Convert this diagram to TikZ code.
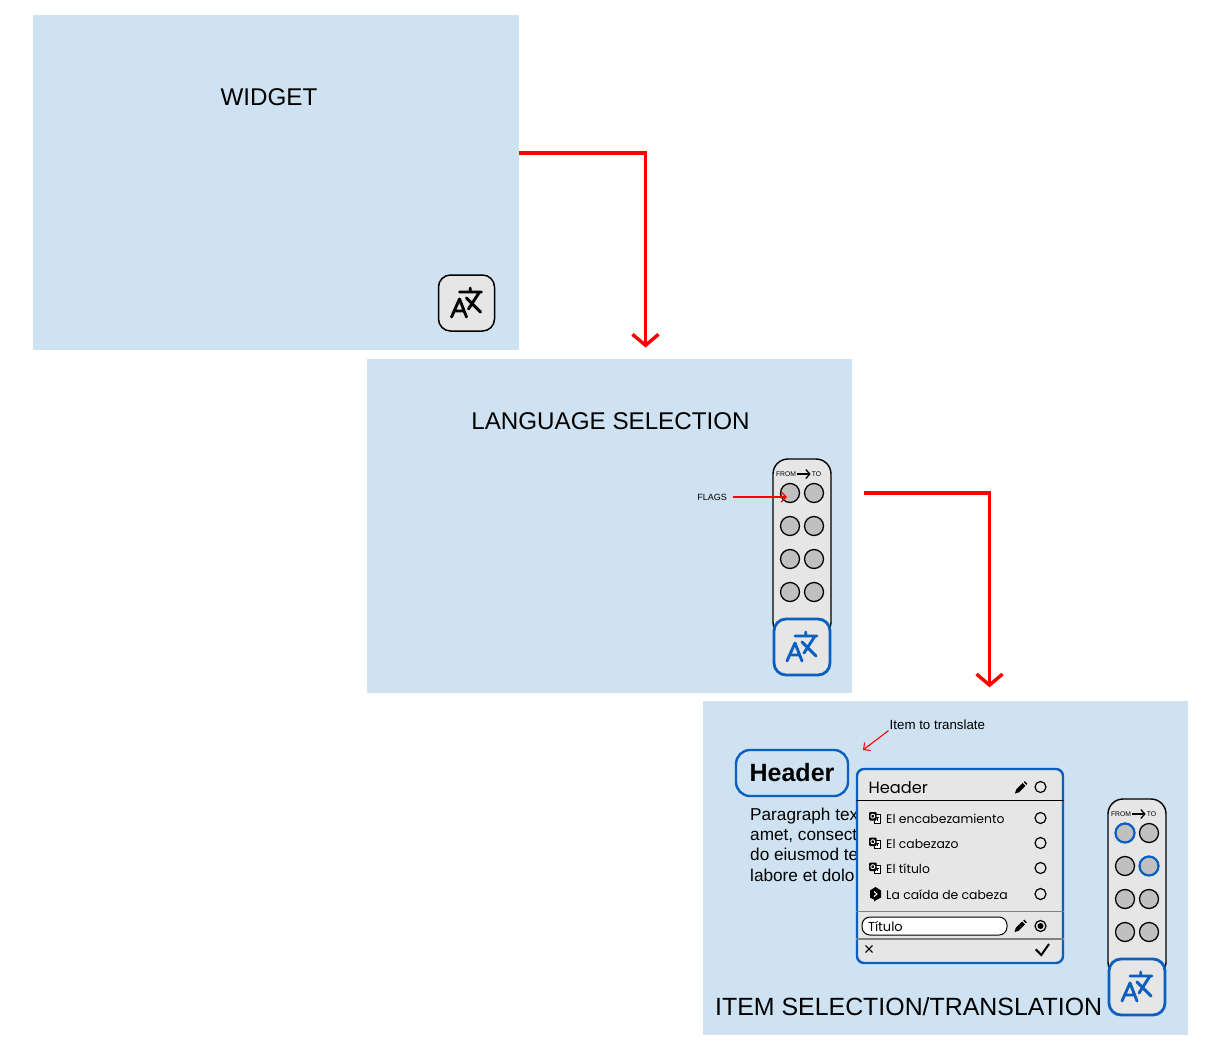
\documentclass[tikz,border=0pt]{standalone}
\usepackage{fontspec}
\setmainfont{Liberation Sans}
\newfontfamily\popfont{Poppins}
\usetikzlibrary{arrows.meta}
\definecolor{panelblue}{HTML}{CFE2F1}
\definecolor{selblue}{HTML}{0A5FBF}
\definecolor{boxgrey}{HTML}{E6E6E6}
\definecolor{flaggrey}{HTML}{C0C0C0}
\newcommand{\fsize}[1]{\fontsize{#1}{#1}\selectfont}
\tikzset{
    glyph/.style={line width=2.9pt, line cap=round, line join=round},
    flagdot/.style={circle, draw, line width=1.3pt, fill=flaggrey, minimum size=19pt, inner sep=0pt},
    pics/transicon/.style args={#1/#2}{code={
        \node [rectangle, draw=#1, fill=boxgrey, rounded corners=12pt, minimum size=56pt, inner sep=0pt, line width=#2] (-box) {};
        \draw [glyph, draw=#1] (-15,14) -- (-7,-4) -- (0,14) (-12,8) -- (-3,8);
        \draw [glyph, draw=#1] (-7,-11) -- (15,-11) (3.7,-15) -- (3.7,-11) (13,-11) -- (2,6) (0,-5) -- (14,9);
    }},
    pics/flagpanel/.style={code={
        \draw [fill=boxgrey, line width=1.4pt, rounded corners=15pt] (-29,-188) rectangle (29,-10);
        \node [font=\fsize{6.8}, inner sep=1pt] (-from) at (-16,-173) {FROM};
        \node [font=\fsize{6.8}, inner sep=1pt] (-to) at (14.5,-173) {TO};
        \draw [->, line width=1.3pt, >={Straight Barb[length=4pt,width=9pt]}] (-from) -- (-to);
        \foreach \row in {0,...,3}
            \foreach \col in {0,1}
                \node [flagdot] (-f\row\col) at (-12+24*\col,-154+33*\row) {};
    }},
    pics/pencil/.style={code={
        \fill (-6,6) -- (-4.8,2) -- (1.6,-4.4) -- (4.4,-1.6) -- (-2,4.8) -- cycle;
        \fill (2.6,-5.4) -- (3.8,-6.4) -- (6.4,-3.8) -- (5.4,-2.6) -- cycle;
    }},
    pics/gicon/.style={code={
        \draw [fill=white, line width=.8pt] (-.5,-3.5) rectangle (5.5,5);
        \draw [line width=.7pt] (1.2,-.5) -- (4,-.5) (2.6,-.5) -- (2.6,2.5);
        \fill [rounded corners=1pt] (-6,-6) rectangle (1.5,2.5);
        \draw [white, line width=.9pt] (-2.2,-1.8) circle (2);
    }},
    pics/deepl/.style={code={
        \fill (-5.5,-3.5) -- (0,-7) -- (5.5,-3.5) -- (5.5,3.5) -- (0,6.5) -- (-1.5,7.5) -- (-1.5,5.5) -- (-5.5,3.5) -- cycle;
        \draw [white, line width=1pt] (-1.5,-2.5) -- (1.5,0) -- (-1.5,2.5);
    }},
}
\begin{document}
\begin{tikzpicture}[x=1pt, y=-1pt,
    panel/.style={rectangle, fill=panelblue, minimum width=485.5pt, minimum height=334.5pt, inner sep=0pt},
    title/.style={font=\fsize{24.2}, inner sep=0pt},
    note/.style={inner sep=1pt},
    flow/.style={draw=red, line width=3.4pt, ->, >={Straight Barb[length=11pt,width=26pt]}},
    hint/.style={draw=red, line width=1.1pt, ->, >={Straight Barb[length=5pt,width=10pt]}},
    radio/.style={circle, draw, line width=1.2pt, minimum size=11pt, inner sep=0pt},
    rowtext/.style={font=\popfont\fsize{12.4}, anchor=west, inner sep=0pt, text height=9pt, text depth=3pt}]

    \useasboundingbox (0,0) rectangle (1209,1054);

    \node [panel] (widget) at (275.75,182.25) {};
    \node [panel] (language) at (609.25,526) {};
    \node [panel] (item) at (945.25,867.75) {};

    \node [title] (widgettitle) at (269,97) {WIDGET};
    \node [title] (languagetitle) at (610.5,421.5) {LANGUAGE SELECTION};
    \node [title, anchor=west, font=\fsize{24.9}] (itemtitle) at (715,1007) {ITEM SELECTION/TRANSLATION};

    \pic (wicon) at (466.5,303) {transicon=black/1.5pt};

    \pic (lflags) at (802,647) {flagpanel};
    \pic (licon) at (802,647) {transicon=selblue/2.8pt};
    \node [note, font=\fsize{9}] (flagslabel) at (712,497) {FLAGS};
    \coordinate (flagsend) at (787,497);
    \path [hint, shorten <=5pt] (flagslabel.east) -- (flagsend);

    \pic (iflags) at (1137,987) {flagpanel};
    \pic (iicon) at (1137,987) {transicon=selblue/2.8pt};
    \node [flagdot, draw=selblue, line width=2.2pt] (isel1) at (iflags-f00) {};
    \node [flagdot, draw=selblue, line width=2.2pt] (isel2) at (iflags-f11) {};

    % header and paragraph behind the popup
    \node [rectangle, draw=selblue, line width=2.4pt, rounded corners=14pt, minimum width=112pt, minimum height=46pt, font=\bfseries\fsize{25}] (header) at (792,773) {Header};
    \node [anchor=north west, align=left, inner sep=0pt, font=\fontsize{17.2}{20.4}\selectfont] (paragraph) at (750,807.5) {Paragraph tex\\amet, consect\\do eiusmod te\\labore et dolo};
    \node [note, font=\fsize{13.3}, anchor=west] (itemlabel) at (888.5,724.5) {Item to translate};
    \coordinate (itemend) at (863,750);
    \path [hint] (itemlabel.south west) -- (itemend);

    % popup
    \node [rectangle, draw=selblue, fill=boxgrey, line width=2.4pt, rounded corners=7pt, minimum width=206pt, minimum height=194pt, inner sep=0pt] (popup) at (960,866) {};
    \draw [line width=1.1pt] (popup.west |- 0,800.5) -- (popup.east |- 0,800.5);
    \draw [line width=1.5pt, black!50] (popup.west |- 0,911.5) -- (popup.east |- 0,911.5);
    \draw [line width=1.2pt, black!50] (popup.west |- 0,939) -- (popup.east |- 0,939);
    \node [rowtext, font=\popfont\fsize{16.2}] (popuphead) at (868.5,790) {Header};
    \pic at (1021,787.5) {pencil};
    \node [radio] (headradio) at (1040.5,787) {};

    \foreach \i/\rowy/\txt in {1/819/El encabezamiento, 2/844/El cabezazo, 3/869/El título, 4/895/La caída de cabeza} {
        \node [rowtext] (row\i) at (886,\rowy+1.5) {\txt};
        \node [radio] (radio\i) at (1040.5,\rowy-1) {};
    }
    \foreach \i/\rowy in {1/818, 2/843.5, 3/868.5}
        \pic at (875,\rowy) {gicon};
    \pic at (875.5,894) {deepl};

    \node [rectangle, draw, fill=white, line width=1pt, rounded corners=8pt, minimum width=145pt, minimum height=18pt, text width=133pt, inner xsep=6pt, inner ysep=0pt, font=\popfont\fsize{13}, text height=11.5pt, text depth=1.5pt] (titleinput) at (934.5,926) {Título};
    \pic at (1020.5,926) {pencil};
    \node [radio] (selradio) at (1040.5,926) {};
    \node [circle, fill, minimum size=6pt, inner sep=0pt] (seldot) at (selradio) {};
    \node [font=\fsize{18}, inner sep=0pt] (cancel) at (869,950) {×};
    \draw [line width=2pt] (1035.7,949.3) -- (1041.3,955) -- (1049,944);

    % arrows between the panels
    \coordinate (bendone) at (645.5,153);
    \coordinate (bendtwo) at (989.5,493);
    \path [flow, shorten >=11pt] (widget.east |- bendone) -- (bendone) -- (bendone |- language.north);
    \path [flow, shorten <=12pt, shorten >=13pt] (language.east |- bendtwo) -- (bendtwo) -- (bendtwo |- item.north);
\end{tikzpicture}
\end{document}
